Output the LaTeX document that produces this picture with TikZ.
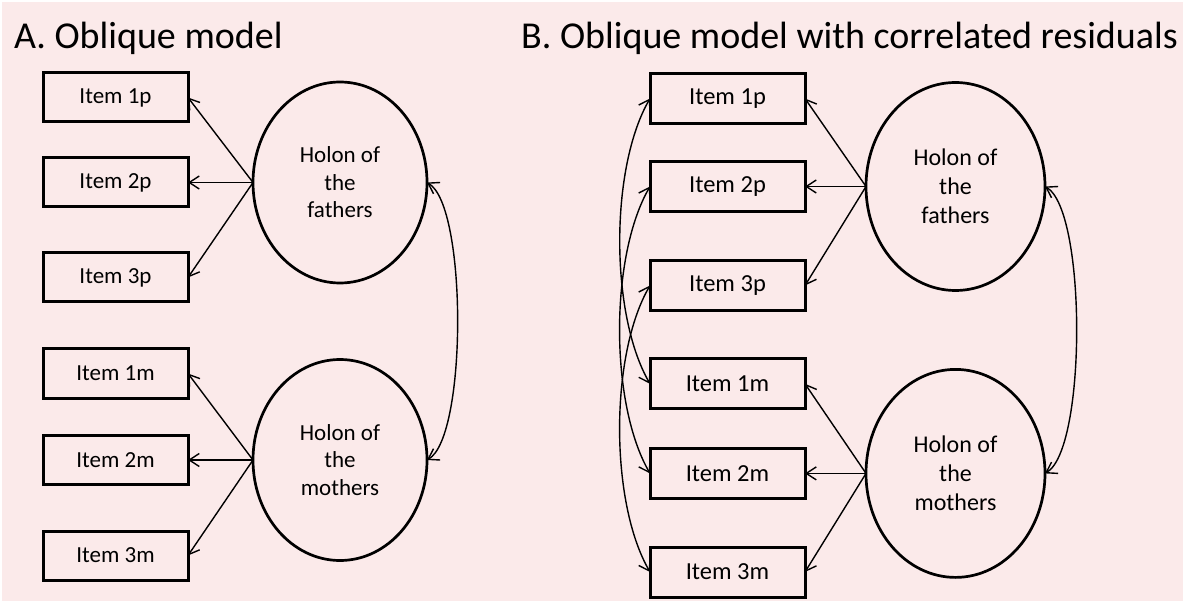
\documentclass[tikz,border=0pt]{standalone}
\usepackage{fontspec}
\setmainfont{Carlito}
\usetikzlibrary{shapes.geometric,arrows.meta}
\definecolor{bgpink}{HTML}{FBEAEA}

\begin{document}
\begin{tikzpicture}[x=1pt,y=1pt,
  item/.style={draw,line width=3pt,minimum width=145pt,minimum height=49pt,inner sep=0pt,outer sep=0pt,font=\fontsize{23}{27.5}\selectfont},
  itemB/.style={item,minimum width=155pt,minimum height=50pt,font=\fontsize{24.5}{29}\selectfont},
  latent/.style={draw,ellipse,line width=2.7pt,minimum width=174pt,minimum height=201pt,inner sep=0pt,outer sep=0pt,align=center,font=\fontsize{23}{27.5}\selectfont},
  latentB/.style={latent,minimum width=179pt,minimum height=208pt,font=\fontsize{24}{29}\selectfont},
  load/.style={line width=1.4pt,-{Straight Barb[length=10pt,width=13pt]}},
  covar/.style={line width=1.4pt,{Straight Barb[length=10pt,width=13pt]}-{Straight Barb[length=10pt,width=13pt]}},
  heading/.style={anchor=base west,inner sep=0pt,font=\fontsize{38}{44}\selectfont}]
\useasboundingbox (0,0) rectangle (1183,-601);
\fill[white] (0,0) rectangle (1183,-601);
\fill[bgpink] (1.5,-2) rectangle (1183,-601);

% titles
\node[heading] (titA) at (14,-49) {A. Oblique model};
\node[heading] (titB) at (521,-49) {B. Oblique model with correlated residuals};

% A: oblique model
\node[item] (ap1) at (115.5,-97.5) {Item 1p};
\node[item] (ap2) at (115.5,-182.5) {Item 2p};
\node[item] (ap3) at (115.5,-277.5) {Item 3p};
\node[item] (am1) at (115.5,-373.5) {Item 1m};
\node[item] (am2) at (115.5,-460) {Item 2m};
\node[item] (am3) at (115.5,-555.5) {Item 3m};
\node[latent] (afa) at (340,-182.5) {Holon of\\the\\fathers};
\node[latent] (amo) at (340,-460) {Holon of\\the\\mothers};
\draw[load] (afa.west) -- (ap1.east);
\draw[load] (afa.west) -- (ap2.east);
\draw[load] (afa.west) -- (ap3.east);
\draw[load] (amo.west) -- (am1.east);
\draw[load] (amo.west) -- (am2.east);
\draw[load] (amo.west) -- (am3.east);
\draw[covar] (afa.east) to[out=-30,in=30,looseness=0.43] (amo.east);

% B: correlated residuals
\node[itemB] (bp1) at (727.5,-98.5) {Item 1p};
\node[itemB] (bp2) at (727.5,-186.5) {Item 2p};
\node[itemB] (bp3) at (727.5,-285.5) {Item 3p};
\node[itemB] (bm1) at (727.5,-383.8) {Item 1m};
\node[itemB] (bm2) at (727.5,-473.4) {Item 2m};
\node[itemB] (bm3) at (727.5,-572) {Item 3m};
\node[latentB] (bfa) at (955.5,-186.5) {Holon of\\the\\fathers};
\node[latentB] (bmo) at (955.5,-473.4) {Holon of\\the\\mothers};
\draw[load] (bfa.west) -- (bp1.east);
\draw[load] (bfa.west) -- (bp2.east);
\draw[load] (bfa.west) -- (bp3.east);
\draw[load] (bmo.west) -- (bm1.east);
\draw[load] (bmo.west) -- (bm2.east);
\draw[load] (bmo.west) -- (bm3.east);
\draw[covar] (bfa.east) to[out=-30,in=30,looseness=0.43] (bmo.east);
\draw[covar] (bp1.west) to[out=240,in=120,looseness=0.72] (bm1.west);
\draw[covar] (bp2.west) to[out=240,in=120,looseness=0.72] (bm2.west);
\draw[covar] (bp3.west) to[out=240,in=120,looseness=0.72] (bm3.west);
\end{tikzpicture}
\end{document}
